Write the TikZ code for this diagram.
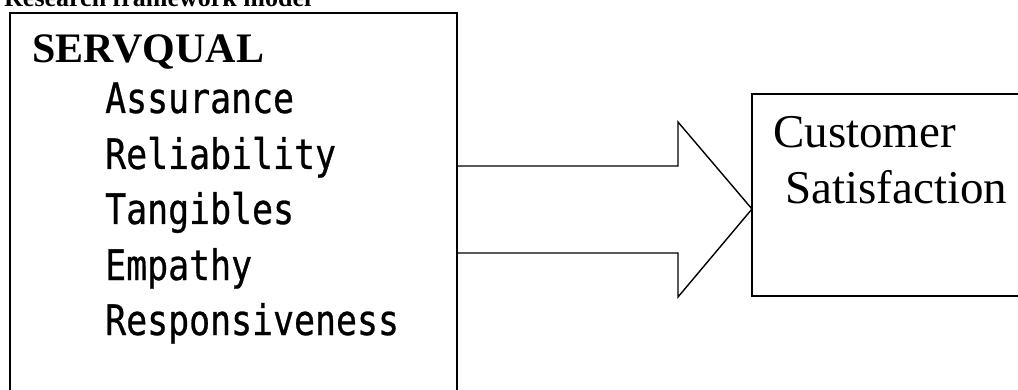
\documentclass[tikz,border=0pt]{standalone}
\usepackage{fontspec}
\setmainfont{Liberation Serif}
\newfontfamily\gothic[FakeStretch=0.83,FakeBold=0.6]{DejaVu Sans Mono}
\begin{document}
\begin{tikzpicture}[x=1pt,y=-1pt,
  boxline/.style={draw=black,line width=1.6pt},
  item/.style={anchor=base west,inner sep=0pt,font=\gothic\fontsize{42}{42}\selectfont},
  serif/.style={anchor=base west,inner sep=0pt}]
\useasboundingbox (0,0) rectangle (1018,390);
\begin{scope}
\clip (0,0) rectangle (1018,390);
% title (cut off at top, as in the reference)
\node[serif,font=\bfseries\fontsize{26}{26}\selectfont] (title) at (4,7) {Research framework model};
% left box
\draw[boxline] (457,400) -- (457,13) -- (10,13) -- (10,400);
% right box
\draw[boxline] (1030,94) -- (752,94) -- (752,296) -- (1030,296);
\end{scope}
\node[serif,font=\bfseries\fontsize{42}{42}\selectfont] (servqual) at (32,63) {SERVQUAL};
\node[item] (a1) at (105,113) {Assurance};
\node[item] (a2) at (105,169) {Reliability};
\node[item] (a3) at (105,224) {Tangibles};
\node[item] (a4) at (105,280) {Empathy};
\node[item] (a5) at (105,335) {Responsiveness};
\node[serif,font=\fontsize{47}{47}\selectfont] (cust) at (773,148) {Customer};
\node[serif,font=\fontsize{47}{47}\selectfont] (sat) at (785,204) {Satisfaction};
% block arrow
\coordinate (s1) at (457,166);
\coordinate (s2) at (457,253);
\coordinate (tip) at (752,209);
\draw[line width=1.4pt,line join=miter] (s1) -- (678,166) -- (678,122) -- (tip) -- (678,297) -- (678,253) -- (s2);
\end{tikzpicture}
\end{document}
